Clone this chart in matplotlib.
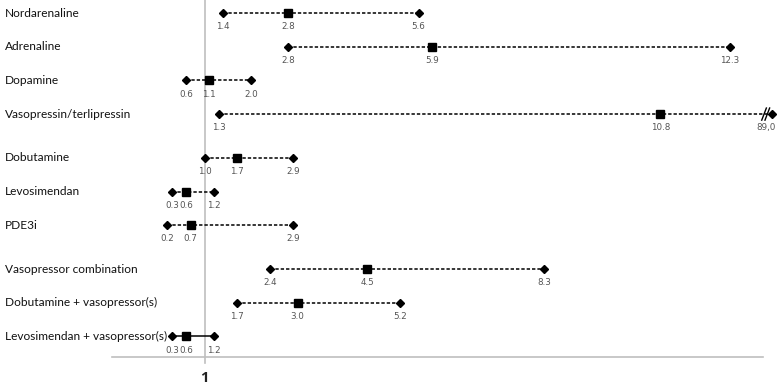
import matplotlib
matplotlib.use("Agg")
import matplotlib.pyplot as plt

categories = ["Nordarenaline", "Adrenaline", "Dopamine", "Vasopressin/terlipressin",
              "Dobutamine", "Levosimendan", "PDE3i",
              "Vasopressor combination", "Dobutamine + vasopressor(s)",
              "Levosimendan + vasopressor(s)"]
row_pos = [0, 1, 2, 3, 4.3, 5.3, 6.3, 7.6, 8.6, 9.6]
lower = [1.4, 2.8, 0.6, 1.3, 1.0, 0.3, 0.2, 2.4, 1.7, 0.3]
estimate = [2.8, 5.9, 1.1, 10.8, 1.7, 0.6, 0.7, 4.5, 3.0, 0.6]
upper = [5.6, 12.3, 2.0, 89.0, 2.9, 1.2, 2.9, 8.3, 5.2, 1.2]
solid_rows = ["Levosimendan + vasopressor(s)"]
axis_break = 13.2  # values beyond this are drawn at the break

fig = plt.figure(figsize=(7.78, 3.84), dpi=100)
ax = fig.add_axes([0, 0, 1, 1])
ax.set_xlim(-3.40, 13.33)
ax.set_ylim(11.01, -0.386)
ax.axis("off")

grey = "#bfbfbf"
# reference line at 1 and bottom axis
ax.plot([1, 1], [-0.5, 10.4], color=grey, lw=1.2, zorder=1)
ax.plot([-0.99, 13.0], [10.2, 10.2], color=grey, lw=1.2, zorder=1)
ax.text(1, 10.82, "1", ha="center", va="center", fontsize=10.5, fontweight="bold",
        color="#222222", family="Open Sans")

num_kw = dict(textcoords="offset points", ha="center", va="center",
              fontsize=6.3, color="#555555", family="DejaVu Sans")

for cat, y, lo, est, hi in zip(categories, row_pos, lower, estimate, upper):
    hi_d = min(hi, axis_break)
    ls = "-" if cat in solid_rows else (0, (2.2, 1.3))
    ax.plot([lo, hi_d], [y, y], color="black", lw=1.1, linestyle=ls, zorder=2)
    ax.plot([lo, hi_d], [y, y], linestyle="none", marker="D", ms=4.3,
            color="black", zorder=3, clip_on=False)
    ax.plot([est], [y], linestyle="none", marker="s", ms=6,
            color="black", zorder=3)
    ax.text(-3.29, y, cat, ha="left", va="center", fontsize=8.6,
            color="#111111", family="Lato")
    for v, xv in ((lo, lo), (est, est), (hi, hi_d)):
        lab = f"{v:.1f}"
        dx_pt = 0
        if v > axis_break:
            lab = lab.replace(".", ",")
            dx_pt = -4.5
        ax.annotate(lab, (xv, y), xytext=(dx_pt, -9.8), **num_kw)
    if hi > axis_break:
        for dx in (-0.17, -0.10):
            ax.plot([hi_d + dx - 0.05, hi_d + dx + 0.05], [y + 0.18, y - 0.18],
                    color="black", lw=1.0, zorder=4, clip_on=False)

fig.savefig("out.png", dpi=100)
